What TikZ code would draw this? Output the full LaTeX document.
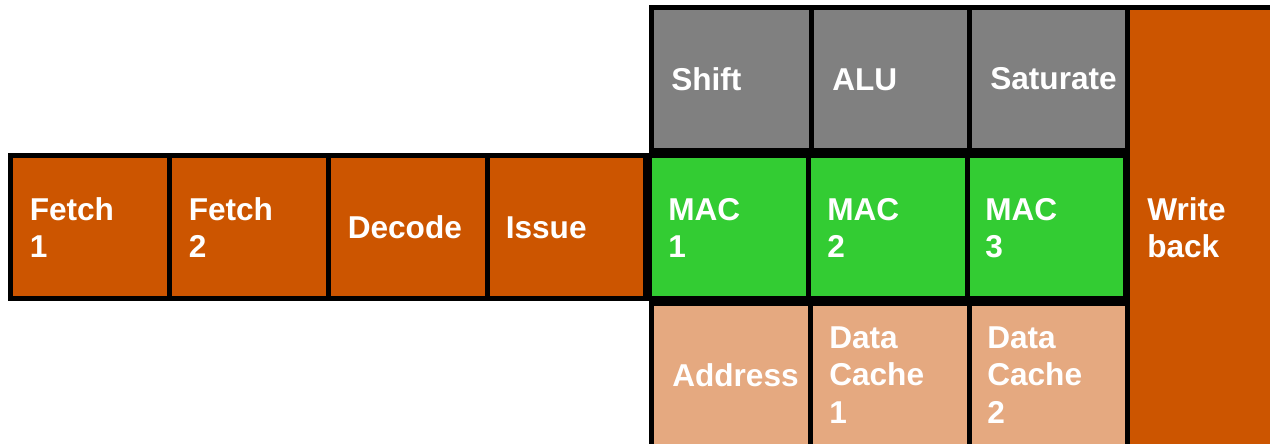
\documentclass[tikz,border=0pt]{standalone}
\usepackage{fontspec}
\setmainfont{Liberation Sans}
\definecolor{rust}{RGB}{204,85,0}
\definecolor{macgreen}{RGB}{51,204,51}
\definecolor{stagegray}{RGB}{128,128,128}
\definecolor{peach}{RGB}{229,169,128}
\newcommand\cellstack[1]{\begin{tabular}[t]{@{}l@{}}#1\end{tabular}}
\begin{document}
\begin{tikzpicture}[x=0.75pt,y=-0.75pt,
  cell/.style={draw=black,line width=3.75pt},
  lab/.style={anchor=base west,inner sep=0pt,text=white,
    font=\fontsize{23.7}{28.125}\selectfont\bfseries}]
\useasboundingbox (0,0) rectangle (1270,443);
\clip (0,0) rectangle (1270,443);
% write back
\path[cell,fill=rust] (1127.5,7.5) rectangle (1300,470);
% gray row
\path[cell,fill=stagegray] (651.5,7.5) rectangle (811,150.5);
\path[cell,fill=stagegray] (811,7.5) rectangle (969,150.5);
\path[cell,fill=stagegray] (969,7.5) rectangle (1127.5,150.5);
% bottom row
\path[cell,fill=peach] (651.5,303.5) rectangle (810,470);
\path[cell,fill=peach] (810,303.5) rectangle (969,470);
\path[cell,fill=peach] (969,303.5) rectangle (1127.5,470);
% green row
\path[cell,fill=macgreen] (649.5,155) rectangle (808,298.5);
\path[cell,fill=macgreen] (808,155) rectangle (967,298.5);
\path[cell,fill=macgreen] (967,155) rectangle (1125.5,298.5);
% left row
\path[cell,fill=rust] (10.5,155) rectangle (169.5,298);
\path[cell,fill=rust] (169.5,155) rectangle (328,298);
\path[cell,fill=rust] (328,155) rectangle (487,298);
\path[cell,fill=rust] (487,155) rectangle (645,298);
% labels
\node[lab] (fetch1) at (29.5,220) {\cellstack{Fetch\\1}};
\node[lab] (fetch2) at (188.5,220) {\cellstack{Fetch\\2}};
\node[lab] (decode) at (347.5,238.3) {Decode};
\node[lab] (issue) at (505.5,238.3) {Issue};
\node[lab] (shift) at (671,90.7) {Shift};
\node[lab] (alu) at (832,90.7) {ALU};
\node[lab] (saturate) at (990,89.5) {Saturate};
\node[lab] (mac1) at (668,220) {\cellstack{MAC\\1}};
\node[lab] (mac2) at (827,220) {\cellstack{MAC\\2}};
\node[lab] (mac3) at (985,220) {\cellstack{MAC\\3}};
\node[lab] (wb) at (1147,220) {\cellstack{Write\\back}};
\node[lab] (address) at (672,386.7) {Address};
\node[lab] (dc1) at (829,348.3) {\cellstack{Data\\Cache\\1}};
\node[lab] (dc2) at (987,348.3) {\cellstack{Data\\Cache\\2}};
\end{tikzpicture}
\end{document}
